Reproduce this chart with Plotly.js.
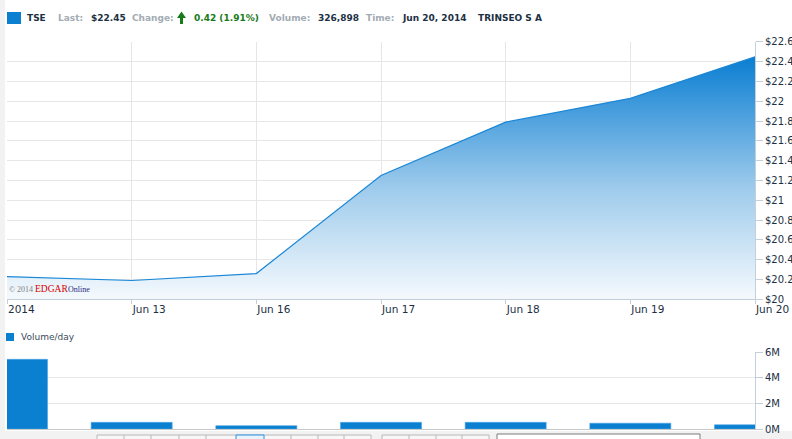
<!DOCTYPE html>
<html>
<head>
<meta charset="utf-8">
<script src="https://cdn.plot.ly/plotly-3.0.1.min.js"></script>
<style>
html,body{margin:0;padding:0;background:#fff;}
#chart{width:792px;height:439px;}
</style>
</head>
<body>
<div id="chart"></div>
<script>
// ---- data ----
const dates = ['2014', 'Jun 13', 'Jun 16', 'Jun 17', 'Jun 18', 'Jun 19', 'Jun 20'];
const closePrices = [20.23, 20.19, 20.26, 21.25, 21.79, 22.03, 22.45];
const volumes = [5450000, 520000, 260000, 520000, 520000, 450000, 326898];
const volTickVals = [0, 2000000, 4000000, 6000000];
const volTickText = ['0M', '2M', '4M', '6M'];

// header info
const ticker = 'TSE';
const lastPrice = '$22.45';
const change = '0.42 (1.91%)';
const volumeText = '326,898';
const timeText = 'Jun 20, 2014';
const company = 'TRINSEO S A';

// ---- helpers (pixel -> paper) ----
const W = 792, H = 439;
const px = x => x / W;
const py = y => 1 - y / H;

const blue = '#0b80d0';
const grayLbl = '#a3abb3';
const dark = '#1d3043';
const green = '#187a18';
const axisCol = '#c3cfdb';
const gridCol = '#e6e6e6';
const font = 'DejaVu Sans';

const priceTrace = {
  type: 'scatter', mode: 'lines',
  x: dates, y: closePrices,
  xaxis: 'x', yaxis: 'y',
  line: {color: '#1b87d6', width: 1.2},
  fill: 'tozeroy',
  fillgradient: {
    type: 'vertical', start: 20.0, stop: 22.45,
    colorscale: [[0, 'rgba(245,249,253,1)'], [0.45, 'rgba(160,204,236,1)'], [1, 'rgba(10,126,210,1)']]
  },
  hoverinfo: 'skip'
};

const volTrace = {
  type: 'bar', x: dates, y: volumes,
  xaxis: 'x2', yaxis: 'y2', width: 0.65,
  marker: {color: blue, line: {color: '#4aa3e4', width: 0.6}},
  hoverinfo: 'skip'
};

function hdr(x, text, color, size) {
  return {xref: 'paper', yref: 'paper', x: px(x), y: py(17.5), xanchor: 'left', yanchor: 'middle',
    text: '<b>' + text + '</b>', showarrow: false,
    font: {family: font, size: size || 9, color: color}};
}

const annotations = [
  hdr(25, ticker, dark),
  hdr(56, 'Last:', grayLbl),
  hdr(89, lastPrice, dark),
  hdr(130, 'Change:', grayLbl),
  hdr(192, change, green),
  hdr(267, 'Volume:', grayLbl),
  hdr(316, volumeText, dark),
  hdr(364, 'Time:', grayLbl),
  hdr(400, timeText, dark),
  hdr(476, company, dark),
  {xref: 'paper', yref: 'paper', x: px(19), y: py(337), xanchor: 'left', yanchor: 'middle',
   text: 'Volume/day', showarrow: false, font: {family: font, size: 9, color: '#3a4a5a'}},
  {xref: 'paper', yref: 'paper', x: px(7), y: py(289), xanchor: 'left', yanchor: 'middle',
   text: '© 2014', showarrow: false, font: {family: 'Liberation Serif', size: 8, color: '#808080'}},
  {xref: 'paper', yref: 'paper', x: px(33), y: py(289), xanchor: 'left', yanchor: 'middle',
   text: 'EDGAR', showarrow: false, font: {family: 'Liberation Serif', size: 9.5, color: '#d40000'}},
  {xref: 'paper', yref: 'paper', x: px(66), y: py(289.5), xanchor: 'left', yanchor: 'middle',
   text: 'Online', showarrow: false, font: {family: 'Liberation Serif', size: 8, color: '#2a2a80'}}
];

const shapes = [
  // left gray strip
  {type: 'rect', xref: 'paper', yref: 'paper', x0: px(0), x1: px(5), y0: py(439), y1: py(0),
   fillcolor: '#f2f2f2', line: {width: 0}, layer: 'below'},
  // bottom gray band
  {type: 'rect', xref: 'paper', yref: 'paper', x0: px(0), x1: px(792), y0: py(439), y1: py(431),
   fillcolor: '#f2f2f2', line: {width: 0}, layer: 'below'},
  // header legend square
  {type: 'rect', xref: 'paper', yref: 'paper', x0: px(7), x1: px(21), y0: py(24), y1: py(12),
   fillcolor: blue, line: {width: 0}},
  // volume legend square
  {type: 'rect', xref: 'paper', yref: 'paper', x0: px(6), x1: px(14), y0: py(341), y1: py(333),
   fillcolor: blue, line: {width: 0}},
  // green arrow
  {type: 'path', xref: 'paper', yref: 'paper',
   path: `M ${px(177)} ${py(18)} L ${px(181.5)} ${py(11.5)} L ${px(186)} ${py(18)} L ${px(183)} ${py(18)} L ${px(183)} ${py(24)} L ${px(180)} ${py(24)} L ${px(180)} ${py(18)} Z`,
   fillcolor: green, line: {width: 0}},
  // bottom buttons (partially visible)
  {type: 'rect', xref: 'paper', yref: 'paper', x0: px(97), x1: px(371), y0: py(445), y1: py(435),
   fillcolor: '#f7f7f7', line: {color: '#b8b8b8', width: 1}},
  {type: 'rect', xref: 'paper', yref: 'paper', x0: px(236), x1: px(264), y0: py(445), y1: py(435),
   fillcolor: '#e8f3fc', line: {color: '#2a90e0', width: 1}},
  {type: 'rect', xref: 'paper', yref: 'paper', x0: px(382), x1: px(489), y0: py(445), y1: py(435),
   fillcolor: '#f7f7f7', line: {color: '#b8b8b8', width: 1}},
  {type: 'rect', xref: 'paper', yref: 'paper', x0: px(497), x1: px(700), y0: py(445), y1: py(434),
   fillcolor: '#ffffff', line: {color: '#7a7a7a', width: 1}}
];
[124, 151, 179, 206, 291, 318, 344, 409, 436, 462].forEach(x => {
  shapes.push({type: 'line', xref: 'paper', yref: 'paper', x0: px(x), x1: px(x), y0: py(439), y1: py(435),
    line: {color: '#b8b8b8', width: 1}});
});

const layout = {
  width: W, height: H,
  margin: {l: 0, r: 0, t: 0, b: 0, pad: 0},
  paper_bgcolor: '#ffffff', plot_bgcolor: 'rgba(0,0,0,0)',
  showlegend: false,
  font: {family: font, size: 10, color: dark},
  xaxis: {
    domain: [px(7), px(755)], anchor: 'y', type: 'category', range: [0, 6],
    showgrid: true, gridcolor: gridCol, gridwidth: 1,
    showline: true, linecolor: axisCol, linewidth: 1,
    ticks: 'outside', ticklen: 4, tickcolor: axisCol,
    ticklabelposition: 'outside right',
    tickfont: {family: font, size: 10.5, color: dark},
    fixedrange: true, zeroline: false
  },
  yaxis: {
    domain: [py(299.3), py(41.9)], anchor: 'x', side: 'right', range: [20, 22.6],
    dtick: 0.2, tick0: 20, tickprefix: '$',
    showgrid: true, gridcolor: gridCol, gridwidth: 1,
    showline: true, linecolor: axisCol, linewidth: 1,
    ticks: 'outside', ticklen: 7, tickcolor: axisCol,
    tickfont: {family: font, size: 10, color: dark},
    zeroline: false, fixedrange: true
  },
  xaxis2: {
    domain: [px(7), px(755)], anchor: 'y2', type: 'category', range: [0, 6],
    showgrid: false, showticklabels: false, ticks: '',
    showline: true, linecolor: '#c8c8c8', linewidth: 1,
    fixedrange: true, zeroline: false
  },
  yaxis2: {
    domain: [py(429), py(352.3)], anchor: 'x2', side: 'right', range: [0, 6000000],
    tickvals: volTickVals, ticktext: volTickText,
    showgrid: true, gridcolor: gridCol, gridwidth: 1,
    showline: true, linecolor: axisCol, linewidth: 1,
    ticks: 'outside', ticklen: 7, tickcolor: axisCol,
    tickfont: {family: font, size: 10, color: dark},
    zeroline: false, fixedrange: true
  },
  annotations: annotations,
  shapes: shapes
};

Plotly.newPlot('chart', [priceTrace, volTrace], layout, {displayModeBar: false, staticPlot: true});
</script>
</body>
</html>
